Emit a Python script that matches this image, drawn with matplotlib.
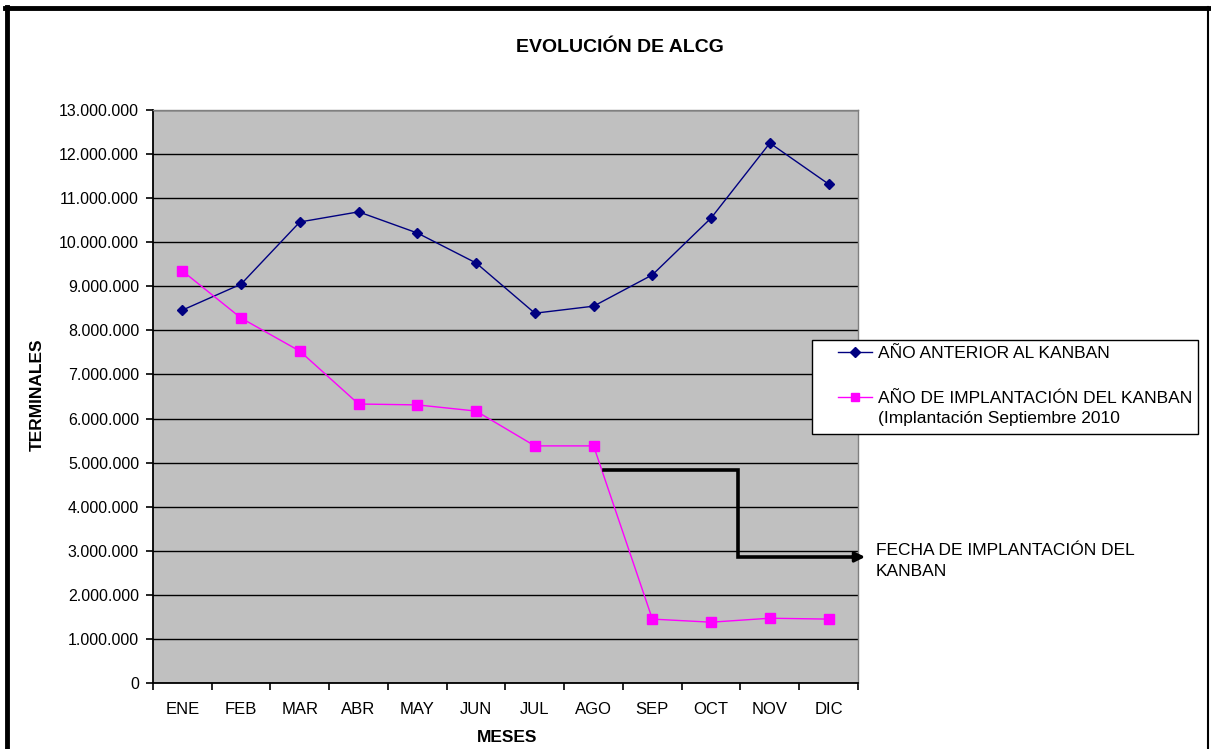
"""
alcg_evolution.py

Monthly evolution of ALCG terminals, year before Kanban vs
year of Kanban implementation.
"""

import numpy as np
import matplotlib.pyplot as plt
from matplotlib.lines import Line2D
from matplotlib.patches import Rectangle
from matplotlib.ticker import FuncFormatter, FixedLocator

plt.rcParams["font.family"] = ["Liberation Sans", "DejaVu Sans"]

months = ["ENE", "FEB", "MAR", "ABR", "MAY", "JUN",
          "JUL", "AGO", "SEP", "OCT", "NOV", "DIC"]

prev_year = [8460000, 9050000, 10460000, 10690000, 10210000, 9530000,
             8390000, 8550000, 9260000, 10550000, 12250000, 11320000]

kanban_year = [9350000, 8280000, 7530000, 6330000, 6310000, 6170000,
               5380000, 5380000, 1450000, 1380000, 1470000, 1450000]

label_prev = "AÑO ANTERIOR AL KANBAN"
label_kanban = "AÑO DE IMPLANTACIÓN DEL KANBAN\n(Implantación Septiembre 2010"

# step line pointing at the implementation date
marker_x = [7.18, 9.45, 9.45, 11.62]
marker_y = [4830000, 4830000, 2860000, 2860000]

W, H = 1211, 749


def px(x, y):
    """Pixel position (from top-left) to figure fraction."""
    return x / W, (H - y) / H


fig = plt.figure(figsize=(W / 100, H / 100), dpi=100)
ax = fig.add_axes([0.1263, 0.0881, 0.5822, 0.765])
ax.set_facecolor("#C0C0C0")

x = np.arange(len(months))

ax.plot(x, prev_year, color="#000080", lw=1.0, marker="D", ms=5.5,
        zorder=4)
ax.plot(x, kanban_year, color="#FF00FF", lw=1.0, marker="s", ms=6.5,
        zorder=4)

ax.set_xlim(-0.5, 11.5)
ax.set_ylim(0, 13000000)
ax.set_yticks(np.arange(0, 13000001, 1000000))
ax.yaxis.set_major_formatter(
    FuncFormatter(lambda v, p: "{:,}".format(int(v)).replace(",", ".")))
ax.yaxis.grid(True, color="black", lw=1.0)
ax.set_axisbelow(True)

ax.set_xticks(x)
ax.set_xticklabels(months)
ax.xaxis.set_minor_locator(FixedLocator(np.arange(-0.5, 12, 1)))
ax.tick_params(axis="x", which="major", length=0, pad=14, labelsize=12)
ax.tick_params(axis="x", which="minor", length=5, width=1.2, direction="out")
ax.tick_params(axis="y", length=5, width=1.2, direction="out", pad=5,
               labelsize=11.5)

for side in ("top", "right"):
    ax.spines[side].set_color("#808080")
    ax.spines[side].set_linewidth(1.0)
for side in ("left", "bottom"):
    ax.spines[side].set_color("black")
    ax.spines[side].set_linewidth(1.3)

# implementation date marker
ax.plot(marker_x[:-1] + [11.45], marker_y, color="black", lw=2.6,
        solid_joinstyle="miter", clip_on=False, zorder=5)
ax.annotate("", xy=(marker_x[-1], marker_y[-1]),
            xytext=(11.4, marker_y[-1]), annotation_clip=False,
            arrowprops=dict(arrowstyle="-|>,head_length=0.6,head_width=0.3",
                            color="black", lw=2.2, shrinkA=0, shrinkB=0))
ax.text(11.8, 2770000, "FECHA DE IMPLANTACIÓN DEL\nKANBAN", ha="left",
        va="center", fontsize=12.5, clip_on=False, linespacing=1.45)

# legend box, drawn by hand to get the wide left margin
x0, y0 = px(812, 434)
x1, y1 = px(1198, 340)
fig.add_artist(Rectangle((x0, y0), x1 - x0, y1 - y0, facecolor="white",
                         edgecolor="black", lw=1.0,
                         transform=fig.transFigure, zorder=6))
# (label, colour, marker, size, handle row, text top)
entries = [(label_prev, "#000080", "D", 5, 352, 346),
           (label_kanban, "#FF00FF", "s", 6, 397, 391)]
for text, color, mk, ms, row, top in entries:
    (ha, ya), (hb, _) = px(838, row), px(872, row)
    fig.add_artist(Line2D([ha, hb], [ya, ya], color=color, lw=1.0,
                          transform=fig.transFigure, zorder=7))
    fig.add_artist(Line2D([(ha + hb) / 2], [ya], color=color, marker=mk,
                          ms=ms, transform=fig.transFigure, zorder=7))
    fig.text(*px(878, top), text, ha="left", va="top", fontsize=12.5,
             linespacing=1.45, zorder=7)

fig.text(620 / W, 0.937, "EVOLUCIÓN DE ALCG", ha="center", va="center",
         fontsize=14, fontweight="bold")
fig.text(*px(37, 395), "TERMINALES", rotation=90,
         ha="center", va="center", fontsize=12.5, fontweight="bold")
fig.text(*px(507, 738), "MESES", ha="center", va="center",
         fontsize=12.5, fontweight="bold")

# outer chart frame
fig.add_artist(Line2D([0.004, 0.998], [0.9893, 0.9893], color="black",
                      lw=3.5, transform=fig.transFigure))
fig.add_artist(Line2D([0.006, 0.006], [0.0, 0.99], color="black",
                      lw=3.5, transform=fig.transFigure))
fig.add_artist(Line2D([0.9975, 0.9975], [0.0, 0.99], color="black",
                      lw=1.5, transform=fig.transFigure))

fig.savefig("out.png", dpi=100)
